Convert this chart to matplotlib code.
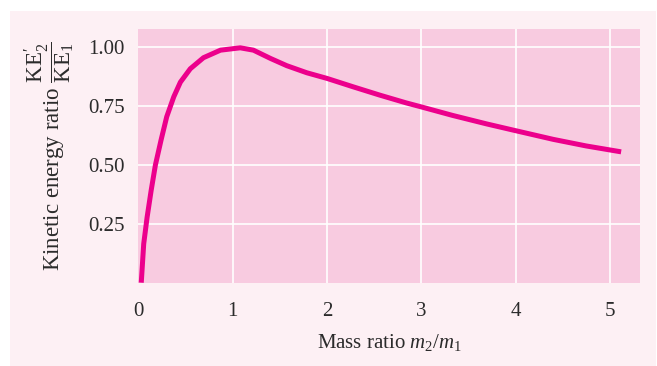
import matplotlib.pyplot as plt
from matplotlib.patches import Rectangle

# values
mass_ratio = [0.03, 0.056, 0.092, 0.135, 0.18, 0.24, 0.30, 0.375, 0.445, 0.55,
              0.69, 0.87, 1.08, 1.22, 1.40, 1.574, 1.786, 2.0, 2.28, 2.56,
              2.84, 3.0, 3.33, 3.69, 4.0, 4.40, 4.75, 5.12]
ke_ratio = [0.0, 0.165, 0.278, 0.392, 0.50, 0.606, 0.705, 0.79, 0.852, 0.909,
            0.956, 0.988, 0.998, 0.988, 0.953, 0.922, 0.892, 0.868, 0.832, 0.797,
            0.764, 0.747, 0.711, 0.675, 0.646, 0.609, 0.581, 0.556]
xticks = [0, 1, 2, 3, 4, 5]
yticks = [0.25, 0.50, 0.75, 1.00]
ytick_labels = ["0.25", "0.50", "0.75", "1.00"]

plt.rcParams['font.family'] = ['Liberation Serif', 'DejaVu Serif']
plt.rcParams['mathtext.fontset'] = 'custom'
plt.rcParams['mathtext.rm'] = 'Liberation Serif'
plt.rcParams['mathtext.it'] = 'Liberation Serif:italic'

fig = plt.figure(figsize=(6.57, 3.66), dpi=100, facecolor='white')
fig.patches.append(Rectangle((10/657, 0), 646/657, 355/366, transform=fig.transFigure,
                             facecolor='#fdf0f4', edgecolor='none', zorder=-1))

ax = fig.add_axes([0.2107, 0.2276, 0.7634, 0.6932])
ax.set_facecolor('#f8cbe0')
ax.plot(mass_ratio, ke_ratio, color='#ec008c', lw=3.6, solid_capstyle='butt',
        solid_joinstyle='round', zorder=3)

ax.set_xlim(0, 5.32)
ax.set_ylim(0, 1.078)
ax.set_xticks(xticks)
ax.set_yticks(yticks)
ax.set_yticklabels(ytick_labels)
ax.grid(True, color='white', lw=1.2)
ax.get_xgridlines()[0].set_visible(False)
ax.set_axisbelow(True)
for s in ax.spines.values():
    s.set_visible(False)
ax.tick_params(length=0, labelsize=15, colors='#2b2b2b')
ax.tick_params(axis='x', pad=14)
ax.tick_params(axis='y', pad=10)

ax.set_xlabel(r"Mass ratio $m_2/m_1$", fontsize=15, color='#2b2b2b', labelpad=8)
ax.set_ylabel(r"Kinetic energy ratio $\dfrac{\mathrm{KE}^{\prime}_{2}}{\mathrm{KE}_{1}}$",
              fontsize=16.5, color='#2b2b2b', labelpad=8)

fig.savefig('out.png', dpi=100, facecolor='white')
